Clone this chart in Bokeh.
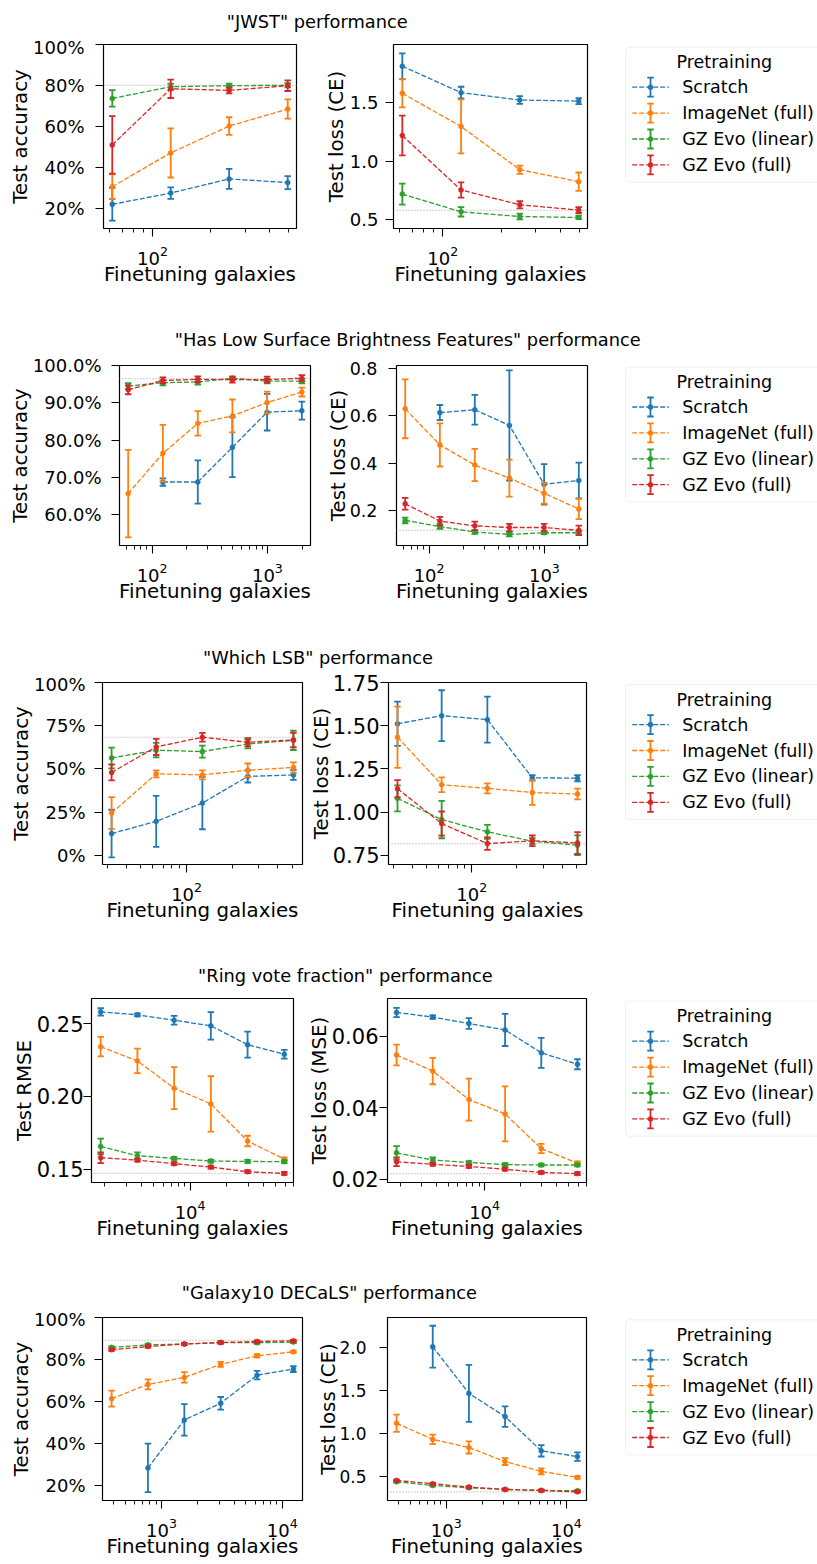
import math

from bokeh.embed import file_html
from bokeh.layouts import column, row
from bokeh.models import (BoxAnnotation, ColumnDataSource, FixedTicker, Label,
                          LogTickFormatter, PrintfTickFormatter, Range1d, Span)
from bokeh.plotting import figure
from bokeh.resources import INLINE

FONT = "DejaVu Sans"
SERIES = ["Scratch", "ImageNet (full)", "GZ Evo (linear)", "GZ Evo (full)"]
COLORS = ["#1f77b4", "#ff7f0e", "#2ca02c", "#d62728"]
LEGEND_TITLE = "Pretraining"
XLABEL = "Finetuning galaxies"

# ---------------------------------------------------------------- JWST
jwst_n = [62, 124, 248, 497]
jwst_acc_scratch = [22.0, 27.5, 34.4, 32.6]
jwst_acc_scratch_err = [8.0, 2.8, 4.9, 3.2]
jwst_acc_imagenet = [30.6, 47.1, 60.2, 68.5]
jwst_acc_imagenet_err = [6.0, 12.0, 4.3, 4.7]
jwst_acc_linear = [73.7, 79.4, 79.9, 80.1]
jwst_acc_linear_err = [4.0, 1.5, 1.0, 1.0]
jwst_acc_full = [51.0, 78.4, 77.6, 79.9]
jwst_acc_full_err = [14.0, 4.5, 1.5, 2.6]
jwst_acc_ref = 80.1
jwst_loss_scratch = [1.808, 1.583, 1.520, 1.511]
jwst_loss_scratch_err = [0.11, 0.05, 0.033, 0.025]
jwst_loss_imagenet = [1.577, 1.295, 0.927, 0.825]
jwst_loss_imagenet_err = [0.12, 0.23, 0.035, 0.078]
jwst_loss_linear = [0.719, 0.568, 0.528, 0.520]
jwst_loss_linear_err = [0.09, 0.04, 0.025, 0.015]
jwst_loss_full = [1.218, 0.754, 0.628, 0.583]
jwst_loss_full_err = [0.17, 0.065, 0.03, 0.025]
jwst_loss_ref = 0.580

# ------------------------------------ Has Low Surface Brightness Features
lsbf_n = [62, 124, 249, 497, 994, 1988]
lsbf_acc_scratch = [None, 68.8, 68.8, 78.1, 87.5, 87.9]
lsbf_acc_scratch_err = [None, 1.0, 5.8, 8.0, 4.9, 2.4]
lsbf_acc_imagenet = [65.7, 76.5, 84.5, 86.5, 90.1, 92.9]
lsbf_acc_imagenet_err = [11.7, 7.6, 3.3, 4.4, 2.9, 1.2]
lsbf_acc_linear = [94.5, 95.4, 95.6, 96.6, 95.8, 95.8]
lsbf_acc_linear_err = [0.8, 0.7, 0.7, 0.4, 0.6, 0.6]
lsbf_acc_full = [93.5, 96.0, 96.3, 96.2, 96.2, 96.6]
lsbf_acc_full_err = [1.2, 0.8, 0.8, 0.8, 0.8, 0.8]
lsbf_acc_ref = 96.5
lsbf_loss_scratch = [None, 0.613, 0.625, 0.559, 0.311, 0.327]
lsbf_loss_scratch_err = [None, 0.032, 0.063, 0.232, 0.085, 0.075]
lsbf_loss_imagenet = [0.629, 0.477, 0.392, 0.337, 0.273, 0.207]
lsbf_loss_imagenet_err = [0.124, 0.091, 0.068, 0.078, 0.044, 0.043]
lsbf_loss_linear = [0.159, 0.133, 0.110, 0.100, 0.107, 0.107]
lsbf_loss_linear_err = [0.012, 0.010, 0.008, 0.008, 0.006, 0.007]
lsbf_loss_full = [0.229, 0.156, 0.136, 0.129, 0.129, 0.117]
lsbf_loss_full_err = [0.025, 0.018, 0.018, 0.015, 0.015, 0.020]
lsbf_loss_ref = 0.117

# ---------------------------------------------------------- Which LSB
wlsb_n = [32, 63, 127, 253, 506]
wlsb_acc_scratch = [12.5, 19.6, 30.2, 45.6, 46.5]
wlsb_acc_scratch_err = [13.8, 14.8, 15.2, 3.5, 2.9]
wlsb_acc_imagenet = [24.4, 47.1, 46.5, 49.2, 50.8]
wlsb_acc_imagenet_err = [9.2, 2.0, 2.6, 3.9, 3.0]
wlsb_acc_linear = [56.3, 60.8, 60.0, 64.4, 66.5]
wlsb_acc_linear_err = [6.0, 4.2, 3.5, 2.5, 5.6]
wlsb_acc_full = [47.9, 62.7, 68.3, 65.4, 66.7]
wlsb_acc_full_err = [4.6, 4.7, 2.5, 2.4, 4.2]
wlsb_acc_ref = 68.3
wlsb_loss_scratch = [1.511, 1.558, 1.535, 1.198, 1.196]
wlsb_loss_scratch_err = [0.128, 0.147, 0.133, 0.016, 0.018]
wlsb_loss_imagenet = [1.433, 1.158, 1.137, 1.113, 1.104]
wlsb_loss_imagenet_err = [0.177, 0.043, 0.029, 0.072, 0.031]
wlsb_loss_linear = [1.079, 0.956, 0.885, 0.831, 0.808]
wlsb_loss_linear_err = [0.075, 0.108, 0.041, 0.017, 0.057]
wlsb_loss_full = [1.135, 0.933, 0.817, 0.833, 0.821]
wlsb_loss_full_err = [0.050, 0.070, 0.036, 0.031, 0.063]
wlsb_loss_ref = 0.817

# ------------------------------------------------- Ring vote fraction
ring_n = [1850, 3700, 7400, 14800, 29600, 59200]
ring_rmse_scratch = [0.2580, 0.2560, 0.2523, 0.2484, 0.2355, 0.2289]
ring_rmse_scratch_err = [0.0025, 0.0010, 0.0030, 0.0094, 0.0089, 0.0030]
ring_rmse_imagenet = [0.2341, 0.2243, 0.2056, 0.1948, 0.1693, 0.1569]
ring_rmse_imagenet_err = [0.0067, 0.0084, 0.0144, 0.0190, 0.0036, 0.0010]
ring_rmse_linear = [0.1656, 0.1592, 0.1574, 0.1555, 0.1553, 0.1551]
ring_rmse_linear_err = [0.0054, 0.0023, 0.0010, 0.0010, 0.0010, 0.0010]
ring_rmse_full = [0.1578, 0.1562, 0.1537, 0.1514, 0.1482, 0.1470]
ring_rmse_full_err = [0.0037, 0.0010, 0.0010, 0.0010, 0.0010, 0.0010]
ring_rmse_ref = 0.1470
ring_loss_scratch = [0.0667, 0.0654, 0.0636, 0.0618, 0.0554, 0.0522]
ring_loss_scratch_err = [0.0013, 0.0005, 0.0015, 0.0045, 0.0042, 0.0014]
ring_loss_imagenet = [0.0548, 0.0503, 0.0423, 0.0383, 0.0286, 0.0245]
ring_loss_imagenet_err = [0.0029, 0.0037, 0.0059, 0.0077, 0.0013, 0.0005]
ring_loss_linear = [0.0274, 0.0254, 0.0247, 0.0241, 0.0240, 0.0240]
ring_loss_linear_err = [0.0019, 0.0007, 0.0004, 0.0004, 0.0004, 0.0004]
ring_loss_full = [0.0249, 0.0242, 0.0236, 0.0228, 0.0219, 0.0216]
ring_loss_full_err = [0.0012, 0.0004, 0.0004, 0.0004, 0.0004, 0.0004]
ring_loss_ref = 0.0216

# ------------------------------------------------- Galaxy10 DECaLS
g10_n = [386, 772, 1544, 3088, 6176, 12352]
g10_acc_scratch = [None, 28.5, 51.3, 59.2, 72.6, 75.5]
g10_acc_scratch_err = [None, 11.5, 7.5, 3.0, 2.0, 1.4]
g10_acc_imagenet = [61.4, 68.2, 71.5, 77.7, 81.8, 83.7]
g10_acc_imagenet_err = [3.8, 2.4, 2.5, 1.2, 0.8, 0.5]
g10_acc_linear = [85.8, 87.0, 87.4, 88.1, 88.0, 88.3]
g10_acc_linear_err = [0.5, 0.5, 0.5, 0.5, 0.5, 0.5]
g10_acc_full = [84.7, 86.2, 87.4, 88.1, 88.6, 88.9]
g10_acc_full_err = [0.5, 0.5, 0.5, 0.5, 0.5, 0.5]
g10_acc_ref = 89.1
g10_loss_scratch = [None, 2.012, 1.469, 1.199, 0.801, 0.734]
g10_loss_scratch_err = [None, 0.244, 0.332, 0.119, 0.066, 0.049]
g10_loss_imagenet = [1.121, 0.934, 0.840, 0.676, 0.562, 0.492]
g10_loss_imagenet_err = [0.100, 0.055, 0.070, 0.040, 0.035, 0.015]
g10_loss_linear = [0.441, 0.398, 0.371, 0.352, 0.340, 0.336]
g10_loss_linear_err = [0.01, 0.01, 0.01, 0.01, 0.01, 0.01]
g10_loss_full = [0.457, 0.418, 0.379, 0.352, 0.340, 0.324]
g10_loss_full_err = [0.01, 0.01, 0.01, 0.01, 0.01, 0.01]
g10_loss_ref = 0.324

# tick values of the y axes
acc20_ticks = [20, 40, 60, 80, 100]
acc10_ticks = [60, 70, 80, 90, 100]
acc25_ticks = [0, 25, 50, 75, 100]
jwst_loss_ticks = [0.5, 1.0, 1.5]
lsbf_loss_ticks = [0.2, 0.4, 0.6, 0.8]
wlsb_loss_ticks = [0.75, 1.00, 1.25, 1.50, 1.75]
ring_rmse_ticks = [0.15, 0.20, 0.25]
ring_loss_ticks = [0.02, 0.04, 0.06]
g10_loss_ticks = [0.5, 1.0, 1.5, 2.0]

XTICK_SIZE = "18px"
LABEL_SIZE = "19.8px"
TITLE_SIZE = "17.8px"
LEGEND_SIZE = "17.5px"
LEGEND_W = 212
TITLE_H = 36


def log_limits(x, margin=0.05):
    lo, hi = math.log10(min(x)), math.log10(max(x))
    pad = (hi - lo) * margin
    return 10 ** (lo - pad), 10 ** (hi + pad)


def log_ticks(lo, hi):
    majors, minors = [], []
    for d in range(math.floor(math.log10(lo)), math.ceil(math.log10(hi)) + 1):
        base = 10 ** d
        if lo <= base <= hi:
            majors.append(base)
        for k in range(2, 10):
            if lo <= k * base <= hi:
                minors.append(k * base)
    return majors, minors


def panel(x, curves, ref, ylim, yticks, yfmt, ylabel, width, height, borders,
          ytick_size="18px", ystand=(6, -2)):
    xlo, xhi = log_limits(x)
    left, right, top, bottom = borders
    p = figure(width=width, height=height, x_axis_type="log",
               x_range=Range1d(xlo, xhi), y_range=Range1d(*ylim),
               toolbar_location=None, output_backend="svg",
               min_border_left=left, min_border_right=right,
               min_border_top=top, min_border_bottom=bottom)
    p.grid.visible = False
    p.outline_line_color = "black"
    p.outline_line_width = 1.2
    p.background_fill_color = "white"
    p.border_fill_color = "white"

    majors, minors = log_ticks(xlo, xhi)
    p.xaxis.ticker = FixedTicker(ticks=majors, minor_ticks=minors)
    p.xaxis.formatter = LogTickFormatter()
    p.yaxis.ticker = FixedTicker(ticks=yticks)
    p.yaxis.formatter = PrintfTickFormatter(format=yfmt)
    p.xaxis.axis_label = XLABEL
    p.yaxis.axis_label = ylabel

    for ax in (p.xaxis[0], p.yaxis[0]):
        ax.axis_line_color = None
        ax.major_tick_out = 8
        ax.major_tick_in = 0
        ax.major_tick_line_width = 1.1
        ax.major_tick_line_color = "black"
        ax.minor_tick_out = 4
        ax.minor_tick_in = 0
        ax.minor_tick_line_width = 0.9
        ax.minor_tick_line_color = "black"
        ax.major_label_text_font = FONT
        ax.major_label_text_color = "black"
        ax.axis_label_text_font = FONT
        ax.axis_label_text_font_size = LABEL_SIZE
        ax.axis_label_text_font_style = "normal"
        ax.axis_label_text_color = "black"
    p.xaxis.major_label_text_font_size = XTICK_SIZE
    p.yaxis.major_label_text_font_size = ytick_size
    p.yaxis.minor_tick_line_color = None
    p.xaxis.major_label_standoff = 9
    p.xaxis.axis_label_standoff = -5
    p.yaxis.major_label_standoff = ystand[0]
    p.yaxis.axis_label_standoff = ystand[1]

    p.add_layout(Span(location=ref, dimension="width", line_color="#b0b0b0",
                      line_width=1.2, line_dash="1 2", level="underlay"))

    for color, (means, errs) in zip(COLORS, curves):
        keep = [i for i, m in enumerate(means) if m is not None]
        xs = [x[i] for i in keep]
        ys = [means[i] for i in keep]
        es = [errs[i] for i in keep]
        src = ColumnDataSource(dict(x=xs, y=ys,
                                    lo=[m - e for m, e in zip(ys, es)],
                                    hi=[m + e for m, e in zip(ys, es)]))
        p.line("x", "y", source=src, line_color=color, line_width=1.3,
               line_dash="5 2")
        p.segment(x0="x", y0="lo", x1="x", y1="hi", source=src,
                  line_color=color, line_width=1.8)
        for end in ("lo", "hi"):
            p.scatter("x", end, source=src, marker="dash", size=6.5,
                      line_color=color, line_width=1.8)
        p.scatter("x", "y", source=src, marker="circle", size=5,
                  fill_color=color, line_color=color, line_width=0.5)
    return p


def blank(width, height, top=0, bottom=0):
    # the y range spans exactly the frame, so one data unit is one pixel
    f = figure(width=width, height=height, x_range=Range1d(0, width),
               y_range=Range1d(bottom, height - top), x_axis_location=None,
               y_axis_location=None, toolbar_location=None,
               output_backend="svg", min_border_left=0, min_border_right=0,
               min_border_top=top, min_border_bottom=bottom)
    f.outline_line_color = None
    f.grid.visible = False
    f.background_fill_color = "white"
    f.border_fill_color = "white"
    return f


def legend_panel(height, box_top, top, bottom):
    f = blank(LEGEND_W, height, top, bottom)
    Y = lambda py: height - py
    f.add_layout(BoxAnnotation(left=20, right=217.6, top=Y(box_top),
                               bottom=Y(box_top + 135), fill_color="white",
                               fill_alpha=1.0, line_color="#cccccc",
                               line_width=1, border_radius=4,
                               level="underlay"))
    f.add_layout(Label(x=118.8, y=Y(box_top + 15), text=LEGEND_TITLE,
                       text_font=FONT, text_font_size=LEGEND_SIZE,
                       text_align="center", text_baseline="middle",
                       text_color="black"))
    for i, (name, color) in enumerate(zip(SERIES, COLORS)):
        cy = Y(box_top + 40 + 25.9 * i)
        f.line([26.7, 63.3], [cy, cy], line_color=color, line_width=1.3,
               line_dash="5 2")
        f.segment(x0=[45], y0=[cy - 9.5], x1=[45], y1=[cy + 9.5],
                  line_color=color, line_width=1.8)
        f.scatter([45, 45], [cy - 9.5, cy + 9.5], marker="dash", size=6.5,
                  line_color=color, line_width=1.8)
        f.scatter([45], [cy], marker="circle", size=5, fill_color=color,
                  line_color=color, line_width=0.5)
        f.add_layout(Label(x=76.7, y=cy, text=name, text_font=FONT,
                           text_font_size=LEGEND_SIZE, text_align="left",
                           text_baseline="middle", text_color="black"))
    return f


def title_panel(text, x, baseline):
    f = blank(817, TITLE_H)
    f.add_layout(Label(x=x, y=TITLE_H - baseline, text=text, text_font=FONT,
                       text_font_size=TITLE_SIZE, text_align="left",
                       text_baseline="alphabetic", text_color="black"))
    return f


bands = [
    dict(title='"JWST" performance', tx=226.3, tb=20.7, h=282, box=10.7,
         tb_borders=(8, 90),
         left=dict(x=jwst_n,
                   curves=[(jwst_acc_scratch, jwst_acc_scratch_err),
                           (jwst_acc_imagenet, jwst_acc_imagenet_err),
                           (jwst_acc_linear, jwst_acc_linear_err),
                           (jwst_acc_full, jwst_acc_full_err)],
                   ref=jwst_acc_ref, ylim=(10.2, 100.0), yticks=acc20_ticks,
                   yfmt="%d%%", ylabel="Test accuracy", width=312,
                   borders=(103, 16), ytick_size="18px", ystand=(11, -2)),
         right=dict(x=jwst_n,
                    curves=[(jwst_loss_scratch, jwst_loss_scratch_err),
                            (jwst_loss_imagenet, jwst_loss_imagenet_err),
                            (jwst_loss_linear, jwst_loss_linear_err),
                            (jwst_loss_full, jwst_loss_full_err)],
                    ref=jwst_loss_ref, ylim=(0.426, 1.993),
                    yticks=jwst_loss_ticks, yfmt="%.1f",
                    ylabel="Test loss (CE)", width=293,
                    borders=(81, 18), ytick_size="18px", ystand=(7, -1))),
    dict(title='"Has Low Surface Brightness Features" performance', tx=174.3,
         tb=21.0, h=283, box=12.5, tb_borders=(11, 92),
         left=dict(x=lsbf_n,
                   curves=[(lsbf_acc_scratch, lsbf_acc_scratch_err),
                           (lsbf_acc_imagenet, lsbf_acc_imagenet_err),
                           (lsbf_acc_linear, lsbf_acc_linear_err),
                           (lsbf_acc_full, lsbf_acc_full_err)],
                   ref=lsbf_acc_ref, ylim=(51.8, 100.0), yticks=acc10_ticks,
                   yfmt="%.1f%%", ylabel="Test accuracy", width=318,
                   borders=(119, 8), ytick_size="18px", ystand=(10, -2)),
         right=dict(x=lsbf_n,
                    curves=[(lsbf_loss_scratch, lsbf_loss_scratch_err),
                            (lsbf_loss_imagenet, lsbf_loss_imagenet_err),
                            (lsbf_loss_linear, lsbf_loss_linear_err),
                            (lsbf_loss_full, lsbf_loss_full_err)],
                    ref=lsbf_loss_ref, ylim=(0.0532, 0.8114),
                    yticks=lsbf_loss_ticks, yfmt="%.1f",
                    ylabel="Test loss (CE)", width=287,
                    borders=(78, 18), ytick_size="17.5px", ystand=(11, -3))),
    dict(title='"Which LSB" performance', tx=202.6, tb=20.3, h=282, box=11.1,
         tb_borders=(9, 91),
         left=dict(x=wlsb_n,
                   curves=[(wlsb_acc_scratch, wlsb_acc_scratch_err),
                           (wlsb_acc_imagenet, wlsb_acc_imagenet_err),
                           (wlsb_acc_linear, wlsb_acc_linear_err),
                           (wlsb_acc_full, wlsb_acc_full_err)],
                   ref=wlsb_acc_ref, ylim=(-5.4, 100.0), yticks=acc25_ticks,
                   yfmt="%d%%", ylabel="Test accuracy", width=306,
                   borders=(102, 4), ytick_size="18px", ystand=(9, -2)),
         right=dict(x=wlsb_n,
                    curves=[(wlsb_loss_scratch, wlsb_loss_scratch_err),
                            (wlsb_loss_imagenet, wlsb_loss_imagenet_err),
                            (wlsb_loss_linear, wlsb_loss_linear_err),
                            (wlsb_loss_full, wlsb_loss_full_err)],
                    ref=wlsb_loss_ref, ylim=(0.696, 1.75),
                    yticks=wlsb_loss_ticks, yfmt="%.2f",
                    ylabel="Test loss (CE)", width=299,
                    borders=(81, 19), ytick_size="21px", ystand=(1, -3))),
    dict(title='"Ring vote fraction" performance', tx=197.6, tb=20.0, h=281,
         box=9.7, tb_borders=(7, 90),
         left=dict(x=ring_n,
                   curves=[(ring_rmse_scratch, ring_rmse_scratch_err),
                           (ring_rmse_imagenet, ring_rmse_imagenet_err),
                           (ring_rmse_linear, ring_rmse_linear_err),
                           (ring_rmse_full, ring_rmse_full_err)],
                   ref=ring_rmse_ref, ylim=(0.1408, 0.2672),
                   yticks=ring_rmse_ticks, yfmt="%.2f", ylabel="Test RMSE",
                   width=300, borders=(91, 7), ytick_size="21px",
                   ystand=(0, -2)),
         right=dict(x=ring_n,
                    curves=[(ring_loss_scratch, ring_loss_scratch_err),
                            (ring_loss_imagenet, ring_loss_imagenet_err),
                            (ring_loss_linear, ring_loss_linear_err),
                            (ring_loss_full, ring_loss_full_err)],
                    ref=ring_loss_ref, ylim=(0.0191, 0.0706),
                    yticks=ring_loss_ticks, yfmt="%.2f",
                    ylabel="Test loss (MSE)", width=305,
                    borders=(87, 19), ytick_size="21px", ystand=(1, -2))),
    dict(title='"Galaxy10 DECaLS" performance', tx=181.3, tb=20.3, h=256,
         box=11.3, tb_borders=(9, 64),
         left=dict(x=g10_n,
                   curves=[(g10_acc_scratch, g10_acc_scratch_err),
                           (g10_acc_imagenet, g10_acc_imagenet_err),
                           (g10_acc_linear, g10_acc_linear_err),
                           (g10_acc_full, g10_acc_full_err)],
                   ref=g10_acc_ref, ylim=(13.0, 100.0), yticks=acc20_ticks,
                   yfmt="%d%%", ylabel="Test accuracy", width=310,
                   borders=(102, 8), ytick_size="18px", ystand=(9, -2)),
         right=dict(x=g10_n,
                    curves=[(g10_loss_scratch, g10_loss_scratch_err),
                            (g10_loss_imagenet, g10_loss_imagenet_err),
                            (g10_loss_linear, g10_loss_linear_err),
                            (g10_loss_full, g10_loss_full_err)],
                    ref=g10_loss_ref, ylim=(0.223, 2.352),
                    yticks=g10_loss_ticks, yfmt="%.1f",
                    ylabel="Test loss (CE)", width=295,
                    borders=(77, 19), ytick_size="17px", ystand=(13, -4))),
]

children = []
for band in bands:
    children.append(title_panel(band["title"], band["tx"], band["tb"]))
    h = band["h"]
    top, bottom = band["tb_borders"]
    panels = []
    for side in ("left", "right"):
        cfg = dict(band[side])
        cfg["borders"] = cfg["borders"] + (top, bottom)
        panels.append(panel(height=h, **cfg))
    children.append(row(*panels, legend_panel(h, band["box"], top, bottom)))

layout = column(*children)

with open("out.html", "w") as fh:
    fh.write(file_html(layout, INLINE, "Finetuning performance"))
